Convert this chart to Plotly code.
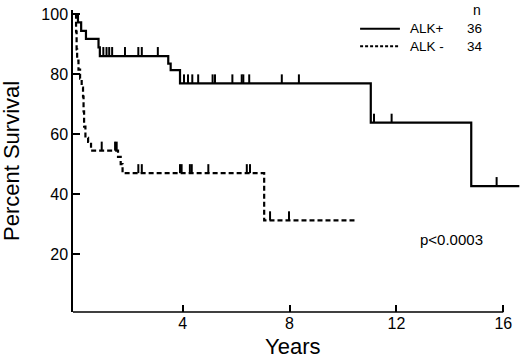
import plotly.graph_objects as go

# ALK+ (solid) Kaplan-Meier steps
alkp_time = [0.0, 0.08, 0.2, 0.38, 0.85, 0.9, 3.46, 3.55, 3.9, 11.04, 14.8, 16.6]
alkp_surv = [100, 97.2, 94.4, 91.7, 88.9, 86.0, 83.5, 81.3, 76.9, 63.8, 42.7, 42.7]
alkp_cens_time = [1.03, 1.15, 1.25, 1.36, 1.84, 2.34, 2.47, 3.07,
                  4.05, 4.2, 4.36, 4.58, 5.12, 5.21, 5.86, 6.21, 6.27, 6.49, 7.71, 8.35,
                  11.16, 11.82, 15.75]
alkp_cens_surv = [86.0] * 8 + [76.9] * 12 + [63.8] * 2 + [42.7]

# ALK- (dashed) Kaplan-Meier steps
alkn_time = [0.0, 0.01, 0.03, 0.05, 0.1, 0.16, 0.22, 0.27, 0.29, 0.31, 0.36, 0.46, 0.57,
             1.58, 1.68, 1.75, 7.05, 10.54]
alkn_surv = [100, 94.1, 88.2, 84.5, 81.5, 78.5, 75.5, 72.5, 67.6, 62.5, 58.8, 57.4, 54.5,
             52.4, 50.0, 47.0, 31.3, 31.3]
alkn_cens_time = [0.97, 1.47, 1.53,
                  2.34, 2.47, 3.90, 3.96, 4.27, 4.34, 4.96, 6.40, 6.52,
                  7.27, 7.98]
alkn_cens_surv = [54.5] * 3 + [47.0] * 9 + [31.3] * 2

group_labels = ["ALK+", "ALK -"]
n_values = [36, 34]
x_ticks = [4, 8, 12, 16]
y_ticks = [20, 40, 60, 80, 100]
p_text = "p<0.0003"

FONT = "Liberation Sans, Arial, Helvetica, sans-serif"
X_RANGE = [-0.105, 16.625]
Y_RANGE = [0.77, 101.33]
PW, PH = 447, 301.7  # plot area size in px

fig = go.Figure()

fig.add_trace(go.Scatter(x=alkp_time, y=alkp_surv, mode="lines", line_shape="hv",
                         line=dict(color="black", width=2.2), showlegend=False))
fig.add_trace(go.Scatter(x=alkn_time, y=alkn_surv, mode="lines", line_shape="hv",
                         line=dict(color="black", width=2.2, dash="5px,3px"), showlegend=False))

for ct, cs in [(alkp_cens_time, alkp_cens_surv), (alkn_cens_time, alkn_cens_surv)]:
    fig.add_trace(go.Scatter(
        x=ct, y=cs, mode="markers", marker=dict(size=1, color="rgba(0,0,0,0)"),
        error_y=dict(type="data", symmetric=False, array=[3.0] * len(ct),
                     arrayminus=[0] * len(ct), width=0, thickness=2, color="black"),
        showlegend=False))

# x-axis line ending at 16
fig.add_shape(type="line", xref="x", yref="paper", x0=X_RANGE[0], x1=x_ticks[-1], y0=0, y1=0,
              line=dict(color="black", width=1.5))

# Legend (manual): one two-line text per column
LEG_FS = 13.5
leg_y = [95.1, 89.3]
dashes = ["solid", "3px,2px"]
for i in range(2):
    fig.add_shape(type="line", xref="x", yref="y", x0=10.64, x1=12.13, y0=leg_y[i], y1=leg_y[i],
                  line=dict(color="black", width=2, dash=dashes[i]))
fig.add_annotation(x=12.44, y=92.2, xref="x", yref="y", text="<br>".join(group_labels),
                   showarrow=False, xanchor="left", yanchor="middle", align="left",
                   font=dict(size=LEG_FS, color="black", family=FONT))
fig.add_annotation(x=14.55, y=92.2, xref="x", yref="y", text="<br>".join(str(v) for v in n_values),
                   showarrow=False, xanchor="left", yanchor="middle", align="left",
                   font=dict(size=LEG_FS, color="black", family=FONT))
fig.add_annotation(x=15.0, y=101.3, xref="x", yref="y", text="n", showarrow=False,
                   xanchor="center", yanchor="middle", font=dict(size=14, color="black", family=FONT))

fig.add_annotation(x=12.8, y=25.0, xref="x", yref="y", text=p_text, showarrow=False,
                   xanchor="left", yanchor="middle", font=dict(size=15, color="black", family=FONT))

# Axis titles
fig.add_annotation(x=-62 / PW, y=0.5, xref="paper", yref="paper", text="Percent Survival",
                   textangle=-90, showarrow=False, xanchor="center", yanchor="middle",
                   font=dict(size=22, color="black", family=FONT))
fig.add_annotation(x=(292 - 73) / PW, y=-34 / PH, xref="paper", yref="paper", text="Years",
                   showarrow=False, xanchor="center", yanchor="middle",
                   font=dict(size=22, color="black", family=FONT))

fig.update_layout(
    width=520, height=358,
    margin=dict(l=73, r=0, t=10, b=46),
    paper_bgcolor="white", plot_bgcolor="white",
    font=dict(family=FONT, color="black"),
    xaxis=dict(range=X_RANGE, tickvals=x_ticks, ticks="inside", ticklen=7, tickwidth=1.5,
               tickcolor="black", showgrid=False, zeroline=False, showline=False,
               tickfont=dict(size=16, family=FONT, color="black")),
    yaxis=dict(range=Y_RANGE, tickvals=y_ticks, ticks="inside", ticklen=7, tickwidth=1.5,
               tickcolor="black", showgrid=False, zeroline=False, showline=True,
               linecolor="black", linewidth=1.5,
               tickfont=dict(size=16, family=FONT, color="black")),
)

fig.write_html("out.html", config={"displayModeBar": False},
               post_script="document.body.style.margin='0';document.body.style.padding='0';")
